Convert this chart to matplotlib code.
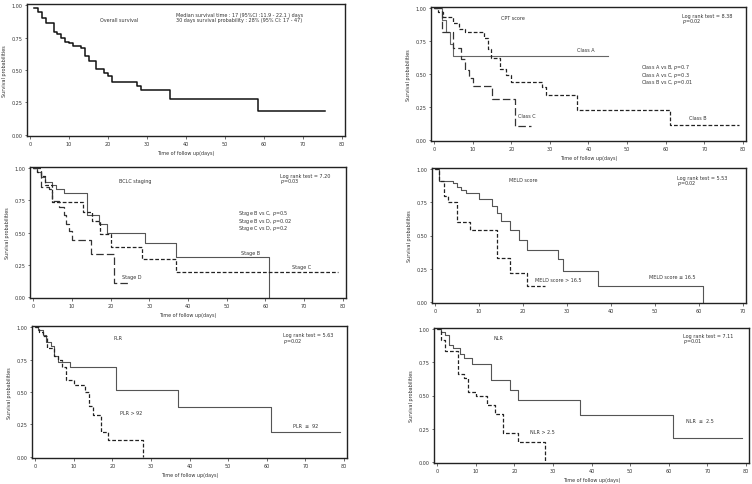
import matplotlib
matplotlib.use("Agg")
import matplotlib.pyplot as plt

# Kaplan-Meier step values (time in days, survival probability)
overall_t = [1, 2, 3, 4, 5, 6, 7, 8, 9, 10, 11, 13, 14, 15, 17, 19, 20, 21, 27.5, 28.5, 36, 58.5, 75.6]
overall_s = [0.977, 0.949, 0.905, 0.867, 0.86, 0.795, 0.777, 0.751, 0.72, 0.705, 0.687, 0.669, 0.605,
             0.567, 0.508, 0.477, 0.456, 0.41, 0.374, 0.349, 0.274, 0.182, 0.182]

cpt_a_t = [0, 2, 3, 4, 5, 45]
cpt_a_s = [1.0, 0.909, 0.818, 0.727, 0.636, 0.636]
cpt_b_t = [0, 1, 2.2, 4.8, 6.5, 8, 13, 14, 14.7, 17, 18.6, 20, 28, 29, 37, 61, 79]
cpt_b_s = [1.0, 0.975, 0.935, 0.885, 0.84, 0.82, 0.775, 0.69, 0.62, 0.54, 0.49, 0.44, 0.40, 0.34,
           0.225, 0.112, 0.112]
cpt_c_t = [0, 2, 5, 7, 8, 9, 10, 15, 21, 25]
cpt_c_s = [1.0, 0.82, 0.70, 0.615, 0.53, 0.47, 0.405, 0.31, 0.105, 0.105]

bclc_b_t = [0, 1, 2, 3, 5, 6, 8, 14, 17, 19, 29, 37, 61, 61]
bclc_b_s = [1.0, 0.97, 0.93, 0.89, 0.87, 0.84, 0.81, 0.64, 0.57, 0.50, 0.42, 0.31, 0.0, 0.0]
bclc_c_t = [0, 1, 2, 3, 5, 13, 15.3, 17.3, 20, 28.2, 37, 78.7]
bclc_c_s = [1.0, 0.97, 0.94, 0.87, 0.74, 0.66, 0.59, 0.486, 0.39, 0.293, 0.195, 0.195]
bclc_d_t = [0, 2, 4, 5, 6.8, 7.9, 8.5, 9.3, 10, 15, 21, 24.4]
bclc_d_s = [1.0, 0.857, 0.84, 0.745, 0.70, 0.636, 0.57, 0.51, 0.44, 0.33, 0.11, 0.11]

meld_lo_t = [0, 1, 4, 5, 6, 7, 10, 13, 14, 15, 17, 19, 21, 28, 29, 37, 61, 61]
meld_lo_s = [1.0, 0.915, 0.90, 0.87, 0.845, 0.82, 0.777, 0.72, 0.667, 0.607, 0.54, 0.467, 0.39,
             0.32, 0.235, 0.12, 0.0, 0.0]
meld_hi_t = [0, 1, 2, 3, 5, 8, 14, 17, 21, 25]
meld_hi_s = [1.0, 0.915, 0.795, 0.75, 0.60, 0.54, 0.33, 0.22, 0.115, 0.115]

plr_lo_t = [0, 0.8, 2, 2.9, 4.1, 5, 6, 9, 21, 37, 61, 79]
plr_lo_s = [1.0, 0.98, 0.94, 0.89, 0.857, 0.78, 0.73, 0.69, 0.516, 0.385, 0.19, 0.19]
plr_hi_t = [0, 1, 2, 3, 4.8, 6, 7, 8, 10, 13, 14, 15, 17, 19, 28, 28]
plr_hi_s = [1.0, 0.965, 0.935, 0.84, 0.78, 0.75, 0.69, 0.59, 0.555, 0.50, 0.39, 0.32, 0.19, 0.13, 0.0, 0.0]

nlr_lo_t = [0, 1, 2, 3, 4.2, 6, 7, 9, 14, 19, 21, 37, 61, 79]
nlr_lo_s = [1.0, 0.98, 0.956, 0.885, 0.86, 0.81, 0.78, 0.74, 0.615, 0.54, 0.465, 0.35, 0.18, 0.18]
nlr_hi_t = [0, 1, 2, 5.5, 7, 8, 10, 13, 15, 17, 21, 28, 28]
nlr_hi_s = [1.0, 0.92, 0.84, 0.66, 0.63, 0.53, 0.50, 0.43, 0.36, 0.22, 0.145, 0.0, 0.0]

y_ticks = [0.0, 0.25, 0.5, 0.75, 1.0]
y_tick_labels = ["0.00", "0.25", "0.50", "0.75", "1.00"]

W, H = 752, 485
FS = 3.5
TXT = "#333333"
SHORT = (0, (3.0, 1.6))
LONG = (0, (6.0, 2.5))
MATH_LS = 0.75  # mathtext lines get taller boxes, pull them together

fig = plt.figure(figsize=(W / 100, H / 100), dpi=100)
plt.rcParams["font.family"] = ["DejaVu Sans"]


def make_axes(l, t, r, b, xmax):
    ax = fig.add_axes([l / W, 1 - b / H, (r - l) / W, (b - t) / H])
    pad = xmax / 100
    ax.set_xlim(-pad, xmax + pad)
    ax.set_ylim(-0.01, 1.01)
    ax.set_yticks(y_ticks)
    ax.set_yticklabels(y_tick_labels)
    ax.set_xticks(range(0, xmax + 1, 10))
    ax.tick_params(labelsize=FS, length=1.8, width=0.5, pad=1.5, colors=TXT)
    for sp in ax.spines.values():
        sp.set_linewidth(1.0)
        sp.set_color("#222222")
    ax.set_ylabel("Survival probabilities", fontsize=FS, color=TXT, labelpad=3)
    return ax


def txt(x, y, s, ha="left", va="center", ls=1.1):
    # x, y in figure pixels (top-left origin)
    fig.text(x / W, 1 - y / H, s, fontsize=FS, color=TXT, ha=ha, va=va, linespacing=ls)


def km(ax, t, s, ls="-", color="#444444", lw=0.8):
    ax.step(t, s, where="post", linestyle=ls, color=color, linewidth=lw)


# overall survival
ax1 = make_axes(27, 5, 345, 137, 80)
km(ax1, overall_t, overall_s, color="#111111", lw=1.1)
ax1.set_xlabel("Time of follow up(days)", fontsize=FS, color=TXT, labelpad=3)
txt(119, 20, "Overall survival", ha="center")
txt(176, 13, "Median survival time : 17 (95%CI :11.9 - 22.1 ) days\n"
             "30 days survival probability : 28% (95% CI: 17 - 47)", va="top")

# CPT score
ax2 = make_axes(431, 8, 746, 142, 80)
km(ax2, cpt_a_t, cpt_a_s, color="#666666")
km(ax2, cpt_b_t, cpt_b_s, ls=SHORT, color="#222222", lw=0.9)
km(ax2, cpt_c_t, cpt_c_s, ls=LONG, color="#333333", lw=0.9)
ax2.set_xlabel("Time of follow up(days)", fontsize=FS, color=TXT, labelpad=3)
txt(513, 19, "CPT score", ha="center")
txt(682, 14, "Log rank test = 8.38\n$p$=0.02", va="top", ls=MATH_LS)
txt(577, 50, "Class A")
txt(641, 63, "Class A vs B, $p$=0.7\nClass A vs C, $p$=0.3\nClass B vs C, $p$=0.01",
    va="top", ls=MATH_LS)
txt(518, 117, "Class C")
txt(689, 118, "Class B")

# BCLC staging
ax3 = make_axes(30, 168, 346, 299, 80)
km(ax3, bclc_b_t, bclc_b_s, color="#555555")
km(ax3, bclc_c_t, bclc_c_s, ls=SHORT, color="#222222", lw=0.9)
km(ax3, bclc_d_t, bclc_d_s, ls=LONG, color="#333333", lw=0.9)
ax3.set_xlabel("Time of follow up(days)", fontsize=FS, color=TXT, labelpad=3)
txt(135, 182, "BCLC staging", ha="center")
txt(280, 174, "Log rank test = 7.20\n$p$=0.03", va="top", ls=MATH_LS)
txt(238, 209, "Stage B vs C, $p$=0.5\nStage B vs D, $p$=0.02\nStage C vs D, $p$=0.2",
    va="top", ls=MATH_LS)
txt(241, 253, "Stage B")
txt(292, 268, "Stage C")
txt(122, 278, "Stage D")

# MELD score
ax4 = make_axes(432, 169, 746, 304, 70)
km(ax4, meld_lo_t, meld_lo_s, color="#555555")
km(ax4, meld_hi_t, meld_hi_s, ls=SHORT, color="#222222", lw=0.9)
txt(523, 181, "MELD score", ha="center")
txt(677, 176, "Log rank test = 5.53\n$p$=0.02", va="top", ls=MATH_LS)
txt(535, 281, "MELD score > 16.5")
txt(649, 278, "MELD score \u2264 16.5")

# PLR
ax5 = make_axes(32, 327, 347, 459, 80)
km(ax5, plr_lo_t, plr_lo_s, color="#555555")
km(ax5, plr_hi_t, plr_hi_s, ls=SHORT, color="#222222", lw=0.9)
ax5.set_xlabel("Time of follow up(days)", fontsize=FS, color=TXT, labelpad=3)
txt(118, 339, "PLR", ha="center")
txt(283, 333, "Log rank test = 5.63\n$p$=0.02", va="top", ls=MATH_LS)
txt(120, 414, "PLR > 92")
txt(293, 427, "PLR  \u2264  92")

# NLR
ax6 = make_axes(434, 329, 749, 464, 80)
km(ax6, nlr_lo_t, nlr_lo_s, color="#555555")
km(ax6, nlr_hi_t, nlr_hi_s, ls=SHORT, color="#222222", lw=0.9)
ax6.set_xlabel("Time of follow up(days)", fontsize=FS, color=TXT, labelpad=3)
txt(498, 339, "NLR", ha="center")
txt(683, 334, "Log rank test = 7.11\n$p$=0.01", va="top", ls=MATH_LS)
txt(530, 433, "NLR > 2.5")
txt(686, 422, "NLR  \u2264  2.5")

fig.savefig("out.png", dpi=100)
